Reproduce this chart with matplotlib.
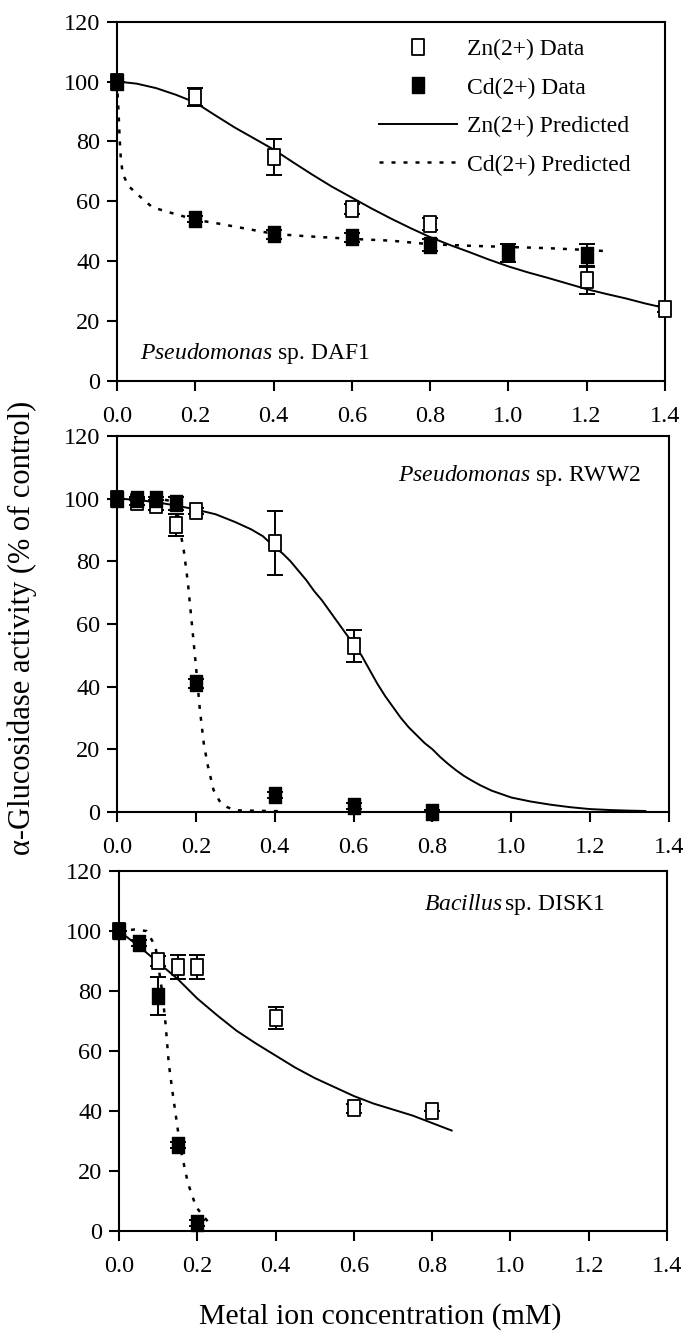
import matplotlib
matplotlib.use("Agg")
import matplotlib.pyplot as plt
from matplotlib.path import Path

plt.rcParams['font.family'] = ['Liberation Serif', 'DejaVu Serif']
plt.rcParams['mathtext.fontset'] = 'custom'
plt.rcParams['mathtext.rm'] = 'Liberation Serif'
plt.rcParams['mathtext.it'] = 'Liberation Serif:italic'

# ---- Pseudomonas sp. DAF1 ----
x_zn1 = [0, 0.2, 0.4, 0.6, 0.8, 1.2, 1.4]
zn1 = [100, 94.8, 74.8, 57.5, 52.3, 33.5, 24]
zn1_err = [0, 3, 6, 1.7, 2, 4.5, 1]
x_cd1 = [0, 0.2, 0.4, 0.6, 0.8, 1.0, 1.2]
cd1 = [100, 54, 49, 48, 45.3, 42.8, 42]
cd1_err = [0, 1, 1.5, 1.5, 2, 3, 3.8]
xp_zn1 = [0, 0.05, 0.1, 0.15, 0.2, 0.25, 0.3, 0.35, 0.4, 0.45, 0.5, 0.55, 0.6, 0.65,
          0.7, 0.75, 0.8, 0.85, 0.9, 0.95, 1.0, 1.05, 1.1, 1.15, 1.2, 1.25, 1.3, 1.35, 1.4]
zn1_pred = [100, 99.3, 97.8, 95.6, 93, 88.8, 84.7, 81, 77.3, 73, 68.8, 64.8, 61.2, 57.6,
            54.2, 51, 48, 45.4, 43, 40.5, 38.2, 36.2, 34.4, 32.5, 30.6, 29, 27.5, 25.8, 24.3]
xp_cd1 = [0, 0.004, 0.007, 0.01, 0.015, 0.03, 0.06, 0.09, 0.13, 0.16, 0.2, 0.26, 0.33,
          0.4, 0.46, 0.52, 0.6, 0.7, 0.8, 0.9, 1.0, 1.1, 1.2, 1.25]
cd1_pred = [100, 90, 80.5, 74, 69, 65, 61.4, 58, 56.4, 55.3, 53.8, 52.5, 50.8,
            49.1, 48.5, 48, 47.4, 46.8, 45.6, 45.1, 44.7, 44.3, 43.7, 43.3]

# ---- Pseudomonas sp. RWW2 ----
x_zn2 = [0, 0.05, 0.1, 0.15, 0.2, 0.4, 0.6]
zn2 = [100, 99, 98, 91.5, 96, 85.8, 53]
zn2_err = [0, 1, 1.5, 3.5, 1, 10.2, 5.2]
x_cd2 = [0, 0.05, 0.1, 0.15, 0.2, 0.4, 0.6, 0.8]
cd2 = [100, 100, 100, 98.5, 41, 5.5, 1.8, 0]
cd2_err = [0, 0.5, 0.5, 2, 1.5, 1, 1, 0.5]
xp_zn2 = [0, 0.05, 0.1, 0.15, 0.2, 0.25, 0.3, 0.34, 0.37, 0.4, 0.42, 0.44, 0.46, 0.48,
          0.5, 0.52, 0.54, 0.56, 0.58, 0.6, 0.62, 0.64, 0.66, 0.68, 0.7, 0.72, 0.74,
          0.76, 0.78, 0.8, 0.82, 0.84, 0.86, 0.88, 0.9, 0.92, 0.95, 1.0, 1.05, 1.1,
          1.15, 1.2, 1.25, 1.3, 1.34]
zn2_pred = [100, 99.6, 98.8, 97.8, 96.5, 95, 92.5, 90.2, 88, 84.5, 82.5, 80, 77, 74,
            70.5, 67.5, 64, 60.5, 57, 53.5, 50, 45.5, 41, 37, 33.5, 30, 27,
            24.5, 22, 20, 17.5, 15.3, 13.3, 11.5, 10, 8.6, 6.8, 4.6, 3.3, 2.3,
            1.5, 0.9, 0.6, 0.4, 0.3]
xp_cd2 = [0, 0.1, 0.15, 0.16, 0.17, 0.18, 0.19, 0.2, 0.21, 0.22, 0.23, 0.245, 0.26,
          0.28, 0.3, 0.42]
cd2_pred = [100, 100, 99, 90, 83, 73, 60, 47, 33, 22, 15, 7, 3.5, 1.5, 0.5, 0.2]

# ---- Bacillus sp. DISK1 ----
x_zn3 = [0, 0.1, 0.15, 0.2, 0.4, 0.6, 0.8]
zn3 = [100, 90, 88, 88, 71, 41, 40]
zn3_err = [0, 1.7, 3.9, 3.9, 3.8, 1.5, 0]
x_cd3 = [0, 0.05, 0.1, 0.15, 0.2]
cd3 = [100, 96, 78.3, 28.6, 2.8]
cd3_err = [0, 1, 6.4, 1, 1]
xp_zn3 = [0, 0.05, 0.1, 0.15, 0.2, 0.25, 0.3, 0.35, 0.4, 0.45, 0.5, 0.55, 0.6, 0.65,
          0.7, 0.75, 0.8, 0.85]
zn3_pred = [100, 95, 89.5, 84, 77.5, 72, 66.8, 62.5, 58.5, 54.5, 51, 48, 45, 42.5,
            40.5, 38.5, 36, 33.5]
xp_cd3 = [0, 0.04, 0.07, 0.093, 0.11, 0.119, 0.127, 0.136, 0.15, 0.158, 0.176, 0.197, 0.228]
cd3_pred = [100, 100.5, 100, 95, 80, 69, 56, 47, 34, 27, 16, 8, 3]

labels = ['Zn(2+) Data', 'Cd(2+) Data', 'Zn(2+) Predicted', 'Cd(2+) Predicted']
x_ticks = [0.0, 0.2, 0.4, 0.6, 0.8, 1.0, 1.2, 1.4]
y_ticks = [0, 20, 40, 60, 80, 100, 120]

panels = [
    dict(pos=[0.171, 0.714, 0.801, 0.2697], zn=(x_zn1, zn1, zn1_err), cd=(x_cd1, cd1, cd1_err),
         zp=(xp_zn1, zn1_pred), cp=(xp_cd1, cd1_pred),
         note=(r'$\mathit{Pseudomonas}$ sp. DAF1', 0.042, 0.077, 'left')),
    dict(pos=[0.171, 0.390, 0.807, 0.2825], zn=(x_zn2, zn2, zn2_err), cd=(x_cd2, cd2, cd2_err),
         zp=(xp_zn2, zn2_pred), cp=(xp_cd2, cd2_pred),
         note=(r'$\mathit{Pseudomonas}$ sp. RWW2', 0.949, 0.896, 'right')),
    dict(pos=[0.174, 0.0751, 0.801, 0.2705], zn=(x_zn3, zn3, zn3_err), cd=(x_cd3, cd3, cd3_err),
         zp=(xp_zn3, zn3_pred), cp=(xp_cd3, cd3_pred),
         note=(r'$\mathit{Bacillus}\,$sp. DISK1', 0.887, 0.906, 'right')),
]

# slightly tall square, as in the original scan
box = Path([(-0.85, -1), (0.85, -1), (0.85, 1), (-0.85, 1), (-0.85, -1)],
           [Path.MOVETO, Path.LINETO, Path.LINETO, Path.LINETO, Path.CLOSEPOLY])

fig = plt.figure(figsize=(6.84, 13.31), dpi=100)
fs = 17.5
ms = 11

for i, p in enumerate(panels):
    ax = fig.add_axes(p['pos'])
    zl, = ax.plot(*p['zp'], color='black', lw=1.4, zorder=2)
    cl, = ax.plot(*p['cp'], color='black', lw=1.8, ls=(0, (1.6, 3.2)), zorder=2)
    xz, yz, ez = p['zn']
    xc, yc, ec = p['cd']
    ax.errorbar(xz, yz, yerr=ez, fmt='none', ecolor='black', elinewidth=1.4,
                capsize=5.5, capthick=1.4, zorder=3)
    ax.errorbar(xc, yc, yerr=ec, fmt='none', ecolor='black', elinewidth=1.4,
                capsize=5.5, capthick=1.4, zorder=3)
    zm, = ax.plot(xz, yz, ls='none', marker=box, ms=ms, mfc='white', mec='black',
                  mew=1.3, zorder=4, clip_on=False)
    cm, = ax.plot(xc, yc, ls='none', marker=box, ms=ms, mfc='black', mec='black',
                  mew=1.0, zorder=5, clip_on=False)

    ax.set_xlim(0, 1.4)
    ax.set_ylim(0, 120)
    ax.set_xticks(x_ticks)
    ax.set_xticklabels([f'{t:.1f}' for t in x_ticks])
    ax.set_yticks(y_ticks)
    ax.tick_params(axis='x', direction='out', length=7, width=1.5, pad=11, labelsize=fs)
    ax.tick_params(axis='y', direction='out', length=7, width=1.5, pad=5, labelsize=fs)
    for s in ax.spines.values():
        s.set_linewidth(1.5)

    txt, tx, ty, ha = p['note']
    ax.text(tx, ty, txt, transform=ax.transAxes, ha=ha, va='center', fontsize=17)

    if i == 0:
        ax.legend([zm, cm, zl, cl], labels, loc='upper left', bbox_to_anchor=(0.478, 0.953),
                  frameon=False, fontsize=17, handlelength=3.3, handletextpad=0.45,
                  labelspacing=0.72, borderpad=0, borderaxespad=0, numpoints=1)

fig.text(0.032, 0.528, 'α-Glucosidase activity (% of control)', rotation=90,
         ha='center', va='center', fontsize=22)
fig.text(0.556, 0.0105, 'Metal ion concentration (mM)', ha='center', va='center', fontsize=21.5)

fig.savefig('out.png', dpi=100)
